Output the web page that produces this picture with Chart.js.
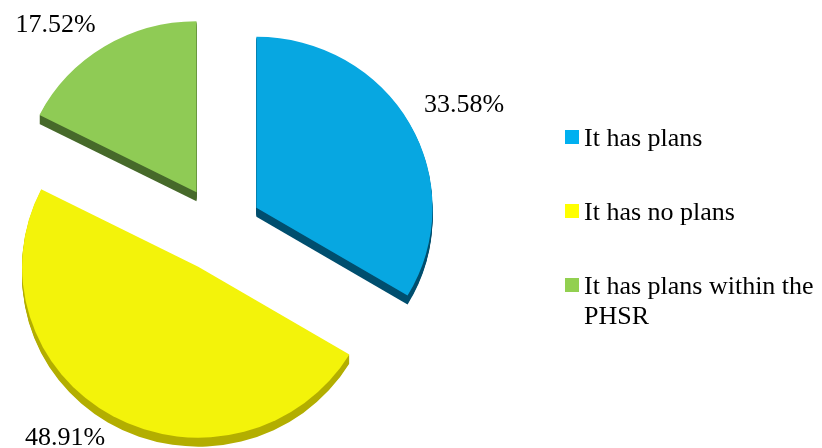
<!DOCTYPE html>
<html>
<head>
<meta charset="utf-8">
<script src="https://cdn.jsdelivr.net/npm/chart.js@4.4.0/dist/chart.umd.min.js"></script>
<style>
  body { margin: 0; background: #fff; }
  #wrap { position: relative; width: 822px; height: 448px; }
  #legend {
    position: absolute; left: 565px; top: 123px; width: 257px;
    font: 26px "Liberation Serif", "Times New Roman", serif; color: #000;
    display: flex; flex-direction: column; gap: 44px;
  }
  .item { position: relative; padding-left: 19px; line-height: 30px; }
  .box { position: absolute; left: 0; top: 7px; width: 14px; height: 14px; }
</style>
</head>
<body>
<div id="wrap">
  <canvas id="myChart"></canvas>
  <div id="legend"></div>
</div>
<script>
// Categories and shares (%)
var labels = ["It has plans", "It has no plans", "It has plans within the PHSR"];
var shares = [33.58, 48.91, 17.52];
// Top face, legend swatch and side (extrusion) colours
var faceColors = ["#07A7E1", "#F3F30A", "#8FCB55"];
var swatchColors = ["#00B0F0", "#FFFF00", "#92D050"];
var sideColors = ["#004E6E", "#B3AE00", "#46692A"];

var explode = 43;    // how far each slice is pulled out from the centre
var depth = 9;       // thickness of the slice sides
var stretchX = 1.03; // slight tilt: the pie is a little wider than tall

// Arc that is drawn pushed out along its bisector, keeping its radius
class ExplodedArc extends Chart.ArcElement {
  draw(ctx) {
    var mid = (this.startAngle + this.endAngle) / 2;
    ctx.save();
    ctx.translate(this.x + Math.cos(mid) * explode, this.y + Math.sin(mid) * explode);
    ctx.scale(stretchX, 1);
    ctx.translate(-this.x, -this.y);
    super.draw(ctx);
    ctx.restore();
  }
}
ExplodedArc.id = "explodedArc";

class ExplodedPie extends Chart.PieController {}
ExplodedPie.id = "explodedPie";
ExplodedPie.defaults = { dataElementType: "explodedArc" };

Chart.register(ExplodedArc, ExplodedPie);

function sliceGeom(arc) {
  var p = arc.getProps(["x", "y", "startAngle", "endAngle", "outerRadius"], true);
  var mid = (p.startAngle + p.endAngle) / 2;
  return {
    cx: p.x + Math.cos(mid) * explode,
    cy: p.y + Math.sin(mid) * explode,
    r: p.outerRadius, s: p.startAngle, e: p.endAngle, mid: mid
  };
}

// Dark side of every slice, drawn underneath the faces
var sidePlugin = {
  id: "sides",
  beforeDatasetsDraw: function(chart) {
    var ctx = chart.ctx;
    chart.getDatasetMeta(0).data.forEach(function(arc, i) {
      var g = sliceGeom(arc);
      ctx.save();
      ctx.fillStyle = sideColors[i];
      for (var d = 1; d <= depth; d++) {
        ctx.save();
        ctx.translate(g.cx, g.cy + d);
        ctx.scale(stretchX, 1);
        ctx.beginPath();
        ctx.moveTo(0, 0);
        ctx.arc(0, 0, g.r, g.s, g.e);
        ctx.closePath();
        ctx.fill();
        ctx.restore();
      }
      ctx.restore();
    });
  }
};

// Percentage labels just outside each slice
var labelPlugin = {
  id: "pctLabels",
  afterDatasetsDraw: function(chart) {
    var ctx = chart.ctx;
    ctx.save();
    ctx.font = "26px 'Liberation Serif', 'Times New Roman', serif";
    ctx.fillStyle = "#000";
    chart.getDatasetMeta(0).data.forEach(function(arc, i) {
      var g = sliceGeom(arc);
      var cos = Math.cos(g.mid), sin = Math.sin(g.mid);
      var x = g.cx + cos * (g.r + 16) * stretchX;
      var y = g.cy + sin * (g.r + 10);
      ctx.textAlign = cos >= 0 ? "left" : "right";
      ctx.textBaseline = sin < 0 ? "bottom" : "top";
      ctx.fillText(shares[i].toFixed(2) + "%", x, y);
    });
    ctx.restore();
  }
};

var ctx = document.getElementById("myChart");
var myChart = new Chart(ctx, {
  type: "explodedPie",
  data: {
    labels: labels,
    datasets: [{
      data: shares,
      backgroundColor: faceColors,
      borderWidth: 0
    }]
  },
  options: {
    responsive: true,
    maintainAspectRatio: false,
    animation: false,
    events: [],
    radius: 171,
    layout: { padding: { left: 0, right: 384, top: 10, bottom: 0 } },
    plugins: {
      legend: { display: false },
      tooltip: { enabled: false }
    }
  },
  plugins: [sidePlugin, labelPlugin]
});

// Legend on the right
var legend = document.getElementById("legend");
labels.forEach(function(text, i) {
  var item = document.createElement("div");
  item.className = "item";
  var box = document.createElement("span");
  box.className = "box";
  box.style.background = swatchColors[i];
  item.appendChild(box);
  item.appendChild(document.createTextNode(text));
  legend.appendChild(item);
});
</script>
</body>
</html>
